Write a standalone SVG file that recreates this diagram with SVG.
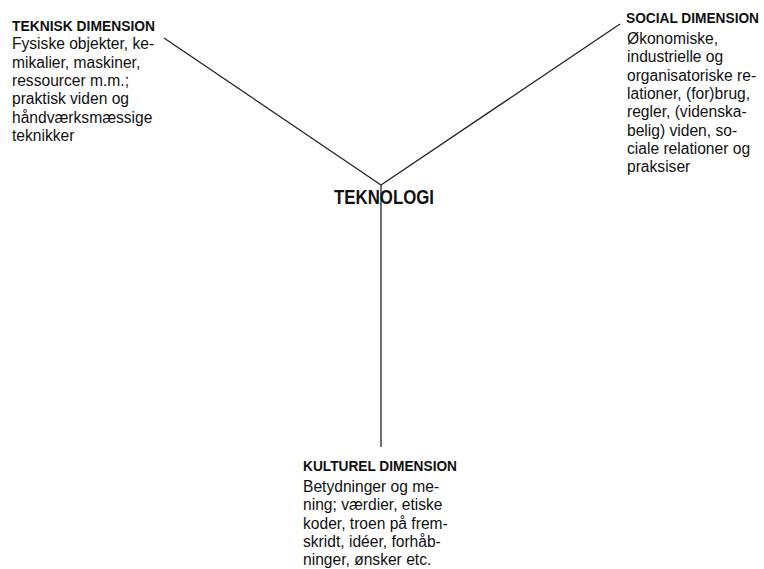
<svg xmlns="http://www.w3.org/2000/svg" width="764" height="569" viewBox="0 0 764 569">
<style>
.h{font-family:"Liberation Sans",Arial,sans-serif;font-weight:bold;font-size:14.5px;fill:#111}
.b{font-family:"Liberation Sans",Arial,sans-serif;font-size:15.6px;fill:#111}
.c{stroke:#222;stroke-width:1.3;fill:none}
</style>
<rect width="764" height="569" fill="#fff"/>
<g id="connectors">
<line class="c" x1="164" y1="38" x2="381" y2="185"/>
<line class="c" x1="620" y1="24" x2="381" y2="185"/>
<line class="c" x1="381" y1="185" x2="381" y2="447"/>
</g>
<g id="teknologi">
<text x="334" y="204" font-family="Liberation Sans, Arial, sans-serif" font-weight="bold" font-size="20.5" fill="#111" textLength="100" lengthAdjust="spacingAndGlyphs">TEKNOLOGI</text>
</g>
<g id="teknisk">
<text class="h" x="12" y="31" textLength="143" lengthAdjust="spacingAndGlyphs">TEKNISK DIMENSION</text>
<text class="b" x="12" y="49.3">Fysiske objekter, ke-</text>
<text class="b" x="12" y="67.6">mikalier, maskiner,</text>
<text class="b" x="12" y="85.9">ressourcer m.m.;</text>
<text class="b" x="12" y="104.2">praktisk viden og</text>
<text class="b" x="12" y="122.5">håndværksmæssige</text>
<text class="b" x="12" y="140.8">teknikker</text>
</g>
<g id="social">
<text class="h" x="626" y="23" style="font-size:14px" textLength="133" lengthAdjust="spacingAndGlyphs">SOCIAL DIMENSION</text>
<text class="b" x="627" y="44">Økonomiske,</text>
<text class="b" x="627" y="62.3">industrielle og</text>
<text class="b" x="627" y="80.6">organisatoriske re-</text>
<text class="b" x="627" y="98.9">lationer, (for)brug,</text>
<text class="b" x="627" y="117.2">regler, (videnska-</text>
<text class="b" x="627" y="135.5">belig) viden, so-</text>
<text class="b" x="627" y="153.8">ciale relationer og</text>
<text class="b" x="627" y="172.1">praksiser</text>
</g>
<g id="kulturel">
<text class="h" x="303" y="471" textLength="154" lengthAdjust="spacingAndGlyphs">KULTUREL DIMENSION</text>
<text class="b" x="303" y="492">Betydninger og me-</text>
<text class="b" x="303" y="510.3">ning; værdier, etiske</text>
<text class="b" x="303" y="528.6">koder, troen på frem-</text>
<text class="b" x="303" y="546.9">skridt, idéer, forhåb-</text>
<text class="b" x="303" y="565.2">ninger, ønsker etc.</text>
</g>
</svg>
